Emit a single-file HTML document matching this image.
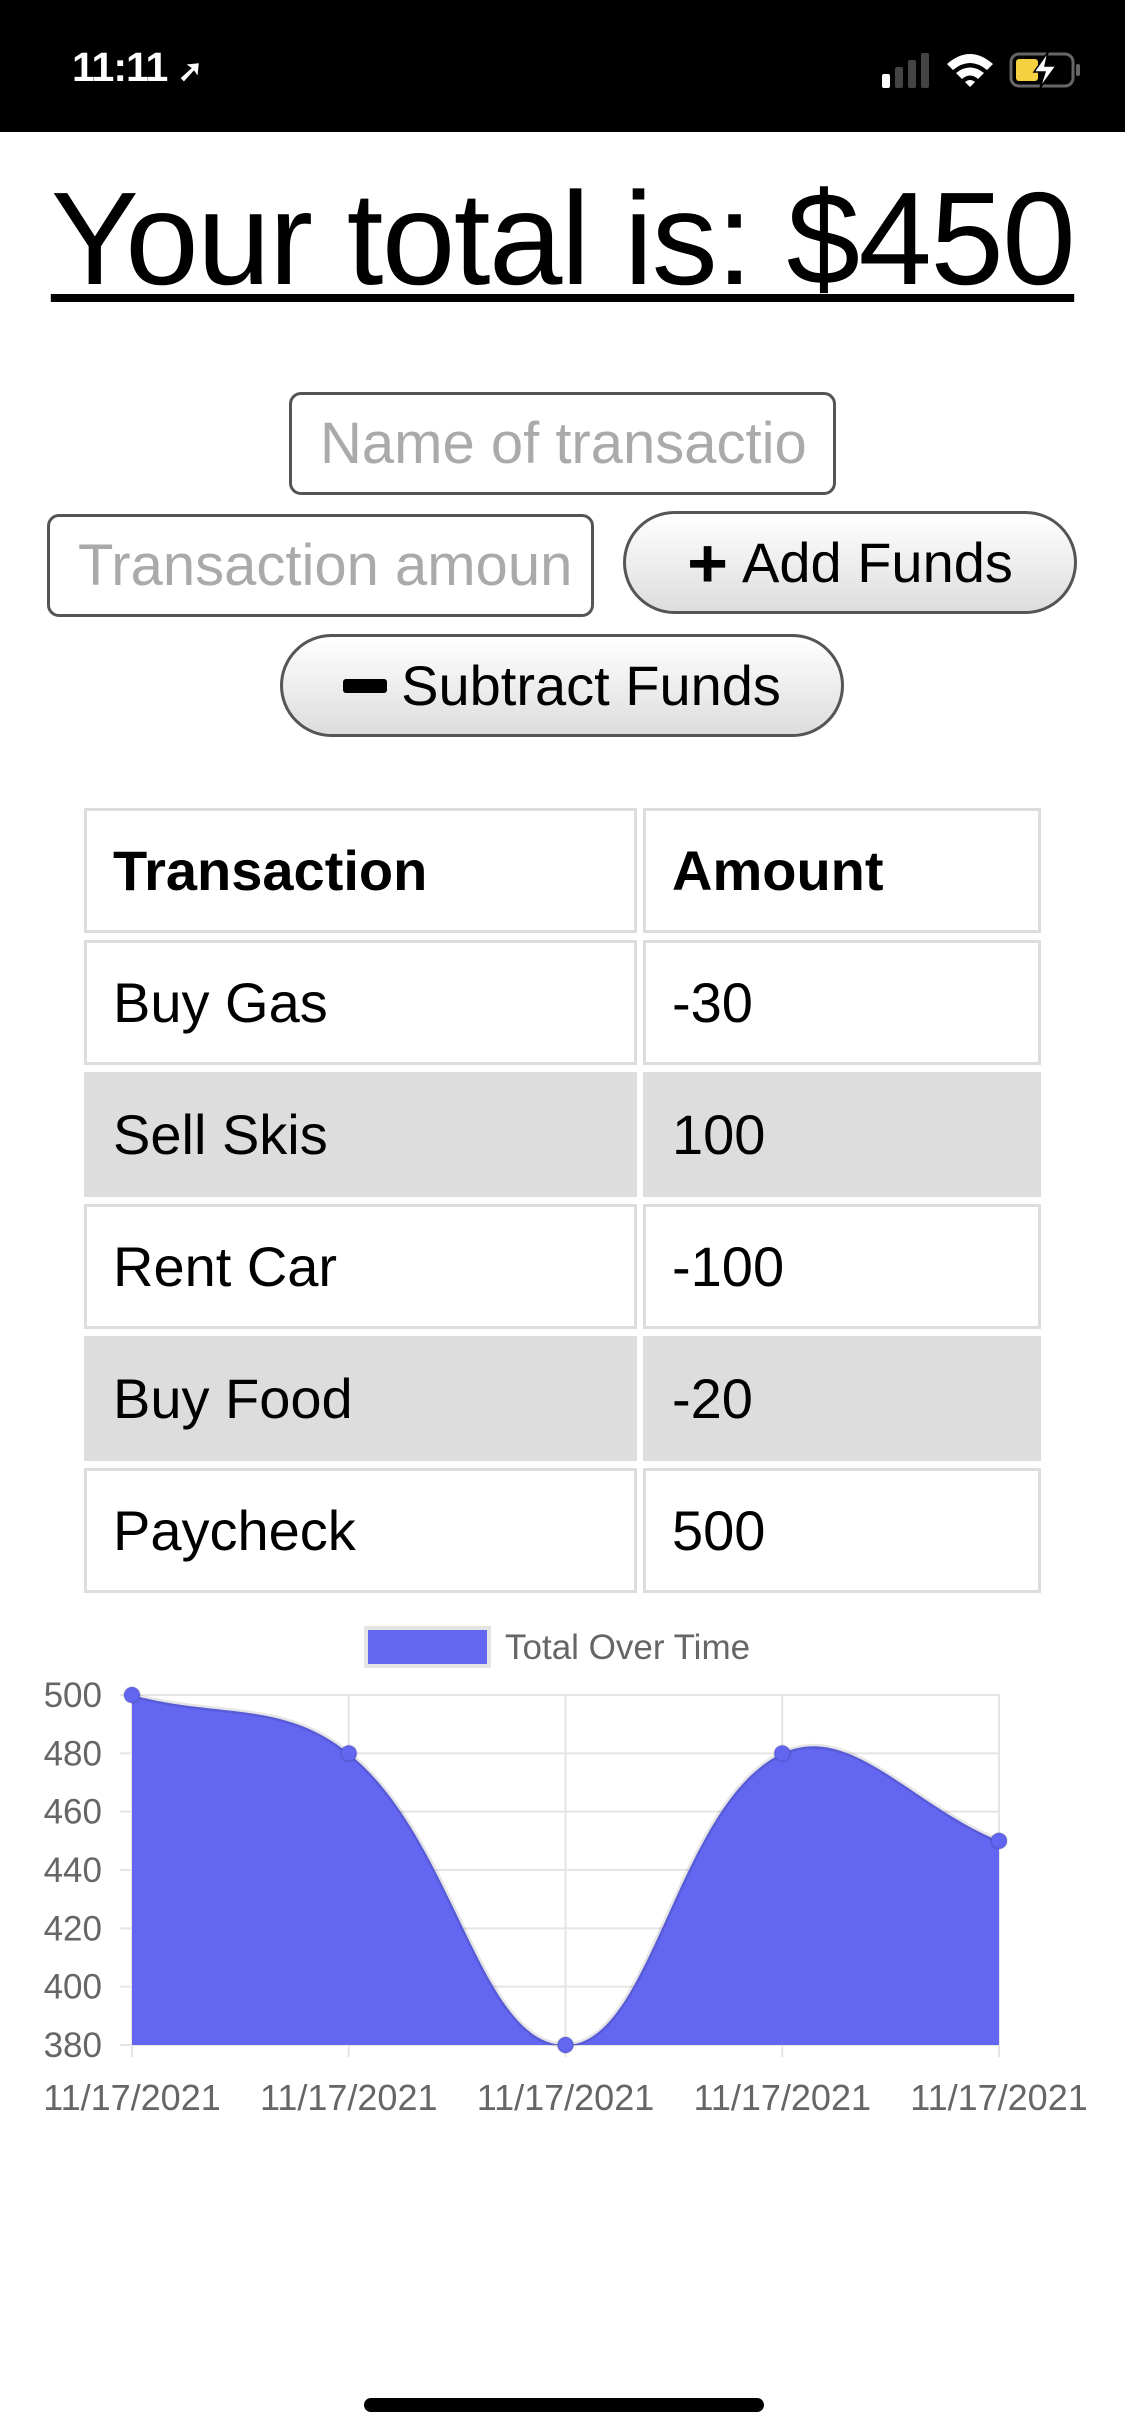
<!DOCTYPE html>
<html><head><meta charset="utf-8">
<style>
*{box-sizing:border-box;margin:0;padding:0}
html,body{width:1125px;height:2436px;background:#fff;overflow:hidden;font-family:"Liberation Sans",Arial,sans-serif}
#status{position:absolute;left:0;top:0;width:1125px;height:132px;background:#000}
#time{position:absolute;left:72px;top:44px;color:#fff;font-size:41px;font-weight:bold;letter-spacing:-1px}
#title{position:absolute;left:0;width:1125px;top:164px;text-align:center;font-size:132px;line-height:150px;text-decoration:underline;text-decoration-thickness:8px;text-underline-offset:10px;color:#000;letter-spacing:-1.5px}
.inp{position:absolute;border:3px solid #555;border-radius:12px;background:#fff;font-size:58px;color:#aaa;padding-left:28px;display:flex;align-items:center;white-space:nowrap;overflow:hidden}
.btn{position:absolute;border:3px solid #555;border-radius:52px;background:linear-gradient(#fff,#ddd);font-size:56px;color:#000;display:flex;align-items:center;justify-content:center;gap:14px}
.cell{position:absolute;border:3px solid #ddd;font-size:56px;display:flex;align-items:center;padding-left:26px;color:#000}
.shade{background:#ddd}
#home{position:absolute;left:364px;top:2398px;width:400px;height:14px;border-radius:7px;background:#000}
</style></head><body>
<div id="status">
 <div id="time">11:11 <span style="font-size:30px">➚</span></div>
 <svg style="position:absolute;left:870px;top:50px" width="230" height="40">
  <rect x="12" y="24" width="8" height="14" rx="2" fill="#fff"/>
  <rect x="25" y="17" width="8" height="21" rx="2" fill="#444"/>
  <rect x="38" y="10" width="8" height="28" rx="2" fill="#444"/>
  <rect x="51" y="3" width="8" height="35" rx="2" fill="#444"/>
  <path d="M77 14 Q100 -6 123 14 L117 20 Q100 6 83 20Z M86 23 Q100 12 114 23 L108 29 Q100 22 92 29Z M95 32 L100 37 L105 32 Q100 28 95 32Z" fill="#fff"/>
  <rect x="141" y="4" width="62" height="32" rx="8" fill="none" stroke="#666" stroke-width="3"/>
  <rect x="146" y="9" width="22" height="22" rx="3" fill="#f5d142"/>
  <rect x="206" y="14" width="4" height="12" rx="2" fill="#666"/>
  <path d="M178 2 L164 22 L175 22 L170 38 L186 16 L175 16Z" fill="#fff" stroke="#000" stroke-width="1.5"/>
 </svg>
</div>
<div id="title">Your total is: $450</div>
<div class="inp" style="left:289px;top:392px;width:547px;height:103px">Name of transactio</div>
<div class="inp" style="left:47px;top:514px;width:547px;height:103px">Transaction amoun</div>
<div class="btn" style="left:623px;top:511px;width:454px;height:103px"><b style="font-size:70px">+</b>Add Funds</div>
<div class="btn" style="left:280px;top:634px;width:564px;height:103px"><span style="display:inline-block;width:44px;height:14px;background:#000;border-radius:3px"></span>Subtract Funds</div>

<div id="table">
 <div class="cell" style="left:84px;top:808px;width:553px;height:125px;font-weight:bold">Transaction</div>
 <div class="cell" style="left:643px;top:808px;width:398px;height:125px;font-weight:bold">Amount</div>
 <div class="cell" style="left:84px;top:940px;width:553px;height:125px">Buy Gas</div>
 <div class="cell" style="left:643px;top:940px;width:398px;height:125px">-30</div>
 <div class="cell shade" style="left:84px;top:1072px;width:553px;height:125px">Sell Skis</div>
 <div class="cell shade" style="left:643px;top:1072px;width:398px;height:125px">100</div>
 <div class="cell" style="left:84px;top:1204px;width:553px;height:125px">Rent Car</div>
 <div class="cell" style="left:643px;top:1204px;width:398px;height:125px">-100</div>
 <div class="cell shade" style="left:84px;top:1336px;width:553px;height:125px">Buy Food</div>
 <div class="cell shade" style="left:643px;top:1336px;width:398px;height:125px">-20</div>
 <div class="cell" style="left:84px;top:1468px;width:553px;height:125px">Paycheck</div>
 <div class="cell" style="left:643px;top:1468px;width:398px;height:125px">500</div>
</div>

<svg id="chart" style="position:absolute;left:0;top:0" width="1125" height="2436"></svg>
<div id="home"></div>

<script>
const categories = ["11/17/2021","11/17/2021","11/17/2021","11/17/2021","11/17/2021"];
const totals = [500, 480, 380, 480, 450];
const yTicks = [500, 480, 460, 440, 420, 400, 380];
const seriesLabel = "Total Over Time";

const NS = "http://www.w3.org/2000/svg";
const svg = document.getElementById('chart');
const X0 = 132, X1 = 999, Y0 = 1695, Y1 = 2045;
const yMin = 380, yMax = 500;
function xPos(i){ return X0 + i * (X1 - X0) / (categories.length - 1); }
function yPos(v){ return Y0 + (yMax - v) * (Y1 - Y0) / (yMax - yMin); }
function mk(tag, attrs, parent){ const e = document.createElementNS(NS, tag); for (const k in attrs) e.setAttribute(k, attrs[k]); (parent || svg).appendChild(e); return e; }

yTicks.forEach(function(v){
  const g = mk('line', {x1: X0 - 12, x2: X1, y1: yPos(v), y2: yPos(v), stroke: '#e5e5e5', 'stroke-width': 2});
  
  
  const t = mk('text', {x: 102, y: yPos(v) + 12, 'text-anchor': 'end', 'font-size': 35, fill: '#666', 'font-family': 'Liberation Sans, sans-serif'});
  t.textContent = v;
  
  
});
categories.forEach(function(c, i){
  const g = mk('line', {x1: xPos(i), x2: xPos(i), y1: Y0, y2: Y1 + 12, stroke: '#e5e5e5', 'stroke-width': 2});
  
  
  const t = mk('text', {x: xPos(i), y: 2110, 'text-anchor': 'middle', 'font-size': 36, fill: '#666', 'font-family': 'Liberation Sans, sans-serif'});
  t.textContent = c;
  
  
});

const pts = totals.map(function(v, i){ return {x: xPos(i), y: yPos(v)}; });
const cps = pts.map(function(p, i){
  const prev = pts[i - 1] || p, next = pts[i + 1] || p;
  const d01 = Math.hypot(p.x - prev.x, p.y - prev.y), d12 = Math.hypot(next.x - p.x, next.y - p.y);
  let s01 = d01 / (d01 + d12), s12 = d12 / (d01 + d12);
  if (isNaN(s01)) s01 = 0; if (isNaN(s12)) s12 = 0;
  const t = 0.4, fa = t * s01, fb = t * s12;
  const clamp = function(y){ return Math.max(Y0, Math.min(Y1, y)); };
  return {px: p.x - fa * (next.x - prev.x), py: clamp(p.y - fa * (next.y - prev.y)),
          nx: p.x + fb * (next.x - prev.x), ny: clamp(p.y + fb * (next.y - prev.y))};
});
let d = 'M' + pts[0].x + ' ' + pts[0].y;
for (let i = 1; i < pts.length; i++) {
  d += ' C' + cps[i-1].nx + ' ' + cps[i-1].ny + ' ' + cps[i].px + ' ' + cps[i].py + ' ' + pts[i].x + ' ' + pts[i].y;
}
const area = mk('path', {d: d + ' L' + X1 + ' ' + Y1 + ' L' + X0 + ' ' + Y1 + ' Z', fill: 'rgb(99,102,241)'});


const line = mk('path', {d: d, fill: 'none', stroke: 'rgba(0,0,0,0.1)', 'stroke-width': 5});


pts.forEach(function(p){
  const c = mk('circle', {cx: p.x, cy: p.y, r: 8, fill: 'rgb(99,102,241)', stroke: 'rgba(0,0,0,0.1)', 'stroke-width': 2});
  
  
});

const lb = mk('rect', {x: 366, y: 1628, width: 123, height: 38, fill: 'rgb(99,102,241)', stroke: '#e5e5e5', 'stroke-width': 4});


const lt = mk('text', {x: 505, y: 1659, 'font-size': 35, fill: '#666', 'font-family': 'Liberation Sans, sans-serif'});
lt.textContent = seriesLabel;


</script>
</body></html>
